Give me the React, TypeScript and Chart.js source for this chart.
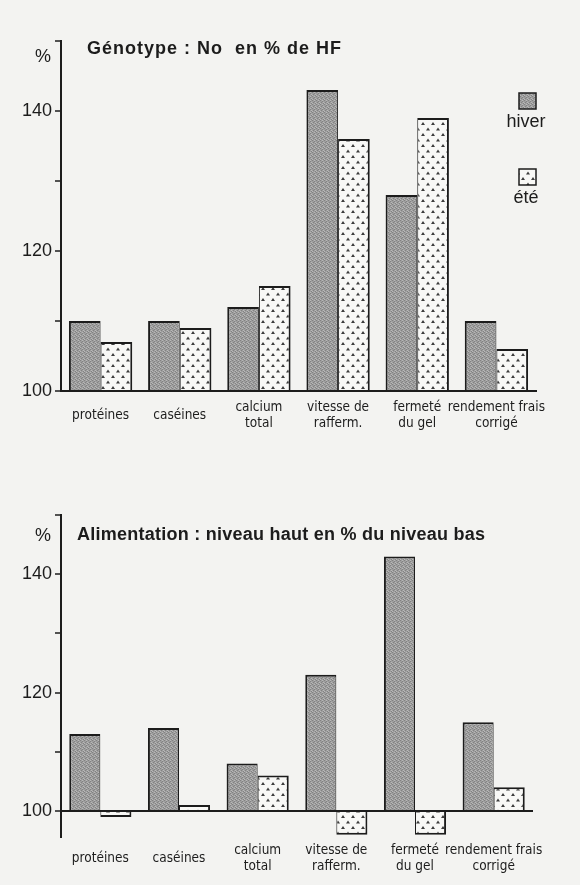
import React, { useEffect, useRef } from 'react';
import { Chart, registerables } from 'chart.js';
Chart.register(...registerables);

const categories: (string | string[])[] = [
  'protéines',
  'caséines',
  ['calcium', 'total'],
  ['vitesse de', 'rafferm.'],
  ['fermeté', 'du gel'],
  ['rendement frais', 'corrigé'],
];
const seriesNames = ['hiver', 'été'];
const genotypeHiver = [110, 110, 112, 143, 128, 110];
const genotypeEte = [107, 109, 115, 136, 139, 106];
const alimHiver = [113, 114, 108, 123, 143, 115];
const alimEte = [99, 101, 106, 96, 96, 104];
const yTicks = [100, 110, 120, 130, 140, 150];
const yTickLabels = ['100', '', '120', '', '140', ''];
const titles = ['Génotype : No  en % de HF', 'Alimentation : niveau haut en % du niveau bas'];
const unitLabel = '%';

const INK = '#1c1c1c';
const FAMILY = '"Liberation Sans", Arial, Helvetica, sans-serif';
const NARROW = '"DejaVu Sans Condensed", "Liberation Sans", Arial, sans-serif';

function makeHiverPattern(): CanvasPattern | string {
  const c = document.createElement('canvas');
  c.width = 4; c.height = 4;
  const g = c.getContext('2d')!;
  g.fillStyle = '#9e9e9e';
  g.fillRect(0, 0, 4, 4);
  g.fillStyle = '#828282';
  g.fillRect(0, 0, 1, 1); g.fillRect(2, 1, 1, 1); g.fillRect(1, 2, 1, 1); g.fillRect(3, 3, 1, 1);
  g.fillStyle = '#b8b8b8';
  g.fillRect(2, 0, 1, 1); g.fillRect(0, 3, 1, 1); g.fillRect(3, 2, 1, 1);
  return g.createPattern(c, 'repeat') || '#a0a0a0';
}

function makeEtePattern(): CanvasPattern | string {
  const c = document.createElement('canvas');
  c.width = 10; c.height = 11;
  const g = c.getContext('2d')!;
  g.fillStyle = '#f8f8f6';
  g.fillRect(0, 0, 10, 11);
  g.fillStyle = '#3c3c3c';
  const tri = (x: number, y: number) => {
    g.beginPath();
    g.moveTo(x, y + 3);
    g.lineTo(x + 2, y);
    g.lineTo(x + 4, y + 3);
    g.closePath();
    g.fill();
  };
  tri(1, 1);
  tri(6, 6.5);
  return g.createPattern(c, 'repeat') || '#eeeeee';
}

type Opts = {
  hiver: number[];
  ete: number[];
  min: number;
  max: number;
  title: string;
  titleX: number;
  titleY: number;
  titleSpacing: string;
  pctX: number;
  pctY: number;
  legend: boolean;
  padTop: number;
  padRight: number;
  xHeight: number;
  catPct: number;
  xBorder: boolean;
  labelPad: number;
};

function buildChart(canvas: HTMLCanvasElement, o: Opts) {
  const hp = makeHiverPattern();
  const ep = makeEtePattern();
  const annot = {
    id: 'annot',
    afterDraw(chart: any) {
      const ctx = chart.ctx as CanvasRenderingContext2D;
      ctx.save();
      ctx.fillStyle = INK;
      ctx.textBaseline = 'middle';
      ctx.font = `bold 18px ${FAMILY}`;
      (ctx as any).letterSpacing = o.titleSpacing;
      ctx.textAlign = 'left';
      ctx.fillText(o.title, o.titleX, o.titleY);
      (ctx as any).letterSpacing = '0px';
      ctx.font = `18px ${FAMILY}`;
      ctx.textAlign = 'center';
      ctx.fillText(unitLabel, o.pctX, o.pctY);
      if (o.legend) {
        const items = [
          { fill: hp, name: seriesNames[0], y: 93 },
          { fill: ep, name: seriesNames[1], y: 169 },
        ];
        for (const it of items) {
          ctx.fillStyle = it.fill as any;
          ctx.fillRect(519, it.y, 17, 16);
          ctx.strokeStyle = INK;
          ctx.lineWidth = 1.5;
          ctx.strokeRect(519, it.y, 17, 16);
          ctx.fillStyle = INK;
          ctx.font = `18px ${FAMILY}`;
          ctx.fillText(it.name, 526, it.y + 29);
        }
      }
      ctx.restore();
    },
  };

  return new Chart(canvas, {
    type: 'bar',
    data: {
      labels: categories as any,
      datasets: [
        {
          label: seriesNames[0],
          data: o.hiver,
          base: 100,
          backgroundColor: hp as any,
          borderColor: INK,
          borderWidth: { left: 2, top: 2, right: 1, bottom: 2 } as any,
          borderSkipped: 'start',
        } as any,
        {
          label: seriesNames[1],
          data: o.ete,
          base: 100,
          backgroundColor: ep as any,
          borderColor: INK,
          borderWidth: { left: 1, top: 2, right: 2, bottom: 2 } as any,
          borderSkipped: 'start',
        } as any,
      ],
    },
    options: {
      responsive: false,
      animation: false,
      devicePixelRatio: 1,
      layout: { padding: { top: o.padTop, right: o.padRight, left: 0, bottom: 0 } },
      datasets: { bar: { categoryPercentage: o.catPct, barPercentage: 1 } },
      plugins: { legend: { display: false }, tooltip: { enabled: false }, title: { display: false } },
      scales: {
        x: {
          grid: { display: false, drawTicks: false },
          border: { display: o.xBorder, color: INK, width: 2 },
          ticks: {
            font: { size: 13.5, family: NARROW, lineHeight: 1.25 },
            color: INK,
            padding: o.labelPad,
            crossAlign: 'center',
            maxRotation: 0,
            autoSkip: false,
          },
          afterFit: (s: any) => {
            s.height = o.xHeight;
            s.paddingLeft = 0; s.paddingRight = 0; s.paddingTop = 0; s.paddingBottom = 0;
          },
        } as any,
        y: {
          min: o.min,
          max: o.max,
          afterBuildTicks: (s: any) => {
            s.ticks = yTicks.map((v) => ({ value: v }));
          },
          ticks: {
            callback: (_v: any, i: number) => yTickLabels[i],
            font: { size: 18, family: FAMILY },
            color: INK,
            padding: 3,
          },
          grid: {
            color: (c: any) => (c.tick && c.tick.value === 100 ? INK : 'rgba(0,0,0,0)'),
            lineWidth: 2,
            tickColor: INK,
            tickLength: 6,
            tickWidth: 1.5,
          },
          border: { display: true, color: INK, width: 2 },
          afterFit: (s: any) => {
            s.width = 61;
            s.paddingLeft = 0; s.paddingRight = 0; s.paddingTop = 0; s.paddingBottom = 0;
          },
        } as any,
      },
    },
    plugins: [annot],
  } as any);
}

export default function App() {
  const r1 = useRef<HTMLCanvasElement>(null);
  const r2 = useRef<HTMLCanvasElement>(null);
  useEffect(() => {
    const c1 = buildChart(r1.current!, {
      hiver: genotypeHiver,
      ete: genotypeEte,
      min: 100,
      max: 150,
      title: titles[0],
      titleX: 87,
      titleY: 49,
      titleSpacing: '1px',
      pctX: 43,
      pctY: 57,
      legend: true,
      padTop: 41,
      padRight: 44,
      xHeight: 49,
      catPct: 0.8,
      xBorder: true,
      labelPad: 16,
    });
    const c2 = buildChart(r2.current!, {
      hiver: alimHiver,
      ete: alimEte,
      min: 95.6,
      max: 150,
      title: titles[1],
      titleX: 77,
      titleY: 95,
      titleSpacing: '0.25px',
      pctX: 43,
      pctY: 96,
      legend: false,
      padTop: 75,
      padRight: 47,
      xHeight: 48,
      catPct: 0.79,
      xBorder: false,
      labelPad: 13,
    });
    return () => {
      c1.destroy();
      c2.destroy();
    };
  }, []);
  return (
    <div style={{ position: 'absolute', left: 0, top: 0, width: 580, height: 885, background: '#f3f3f1', overflow: 'hidden' }}>
      <canvas ref={r1} width={580} height={440} style={{ position: 'absolute', left: 0, top: 0 }} />
      <canvas ref={r2} width={580} height={445} style={{ position: 'absolute', left: 0, top: 440 }} />
    </div>
  );
}
